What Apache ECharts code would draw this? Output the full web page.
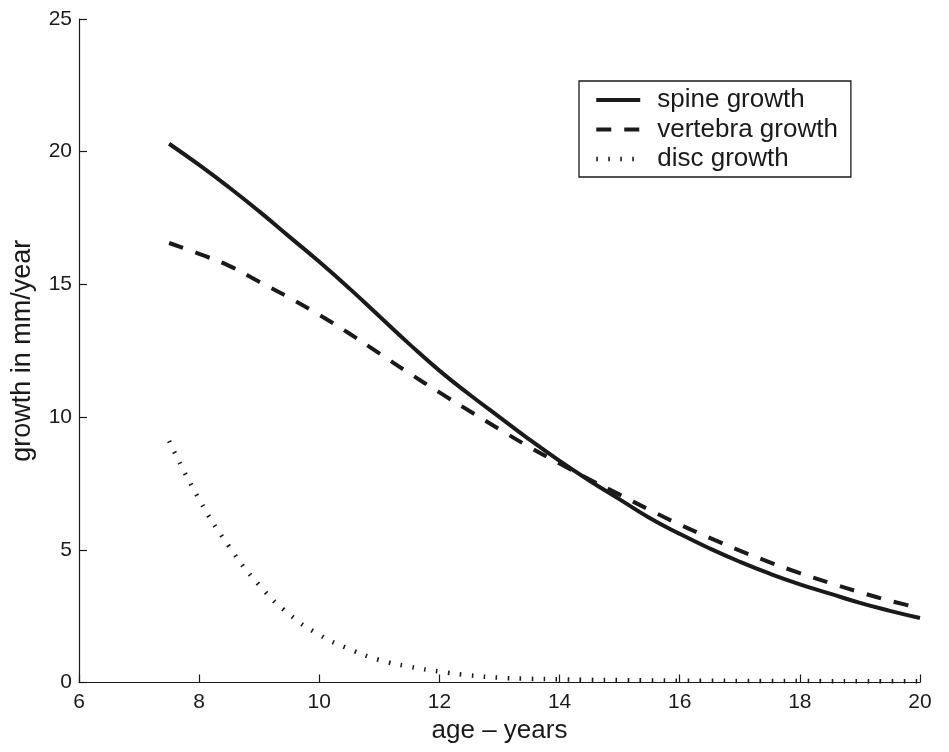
<!DOCTYPE html>
<html>
<head>
<meta charset="utf-8">
<script src="https://cdn.jsdelivr.net/npm/echarts@6/dist/echarts.min.js"></script>
<style>
html,body{margin:0;padding:0;background:#fff;}
#chart{width:949px;height:752px;}
</style>
</head>
<body>
<div id="chart"></div>
<script>
const ages = [7.5,8,8.5,9,9.5,10,10.5,11,11.5,12,12.5,13,13.5,14,14.5,15,15.5,16,16.5,17,17.5,18,18.5,19,19.5,20];
const spineGrowth = [20.3,19.5,18.65,17.75,16.8,15.85,14.85,13.8,12.75,11.75,10.85,10.0,9.15,8.35,7.6,6.9,6.2,5.6,5.05,4.55,4.1,3.7,3.35,3.0,2.7,2.43];
const vertebraGrowth = [16.56,16.15,15.7,15.1,14.5,13.85,13.15,12.4,11.65,10.93,10.23,9.54,8.87,8.25,7.65,7.08,6.5,5.95,5.45,4.97,4.53,4.12,3.75,3.4,3.08,2.8];
const discGrowth = [9.1,6.9,5.12,3.67,2.57,1.8,1.26,0.85,0.6,0.41,0.27,0.18,0.14,0.12,0.1,0.09,0.08,0.07,0.07,0.06,0.06,0.06,0.05,0.05,0.05,0.05];
const seriesNames = ['spine growth','vertebra growth','disc growth'];
const xTitle = 'age \u2013 years';
const yTitle = 'growth in mm/year';

const ink = '#1a1a1a';
const font = 'Liberation Sans, Arial, Helvetica, sans-serif';
const pairs = vals => ages.map((a,i)=>[a, vals[i]]);

const lineStyles = [
  {color:ink, width:4, type:'solid'},
  {color:ink, width:4, type:[15,13]},
  {color:ink, width:4.5, type:[1.6,10.4]}
];

const chart = echarts.init(document.getElementById('chart'), null, {renderer:'canvas'});
chart.setOption({
  animation:false,
  backgroundColor:'#fff',
  grid:{left:79, right:29, top:19, bottom:69.5, containLabel:false},
  legend:{
    orient:'vertical', left:579, top:81,
    padding:[6,13,5,15],
    borderColor:ink, borderWidth:1.3, borderRadius:0,
    itemWidth:44, itemHeight:14, itemGap:3.5,
    itemStyle:{opacity:0},
    textStyle:{fontFamily:font, fontSize:26, color:ink, padding:[0,0,0,12], lineHeight:26},
    data:seriesNames.map((n,i)=>({name:n, lineStyle:lineStyles[i], itemStyle:{opacity:0}}))
  },
  xAxis:{
    type:'value', min:6, max:20, interval:2,
    name:xTitle, nameLocation:'middle', nameGap:32.5,
    nameTextStyle:{fontFamily:font, fontSize:26, color:ink},
    axisLine:{show:true, onZero:false, lineStyle:{color:ink, width:1.2}},
    axisTick:{show:true, inside:true, length:8, lineStyle:{color:ink, width:1.2}},
    axisLabel:{fontFamily:font, fontSize:21, color:ink, margin:9},
    splitLine:{show:false}
  },
  yAxis:{
    type:'value', min:0, max:25, interval:5,
    name:yTitle, nameLocation:'middle', nameGap:42.5,
    nameTextStyle:{fontFamily:font, fontSize:27, color:ink},
    axisLine:{show:true, onZero:false, lineStyle:{color:ink, width:1.2}},
    axisTick:{show:true, inside:true, length:8, lineStyle:{color:ink, width:1.2}},
    axisLabel:{fontFamily:font, fontSize:21, color:ink, margin:7},
    splitLine:{show:false}
  },
  series:[
    {name:seriesNames[0], type:'line', data:pairs(spineGrowth), smooth:true, symbol:'none',
     lineStyle:lineStyles[0], itemStyle:{color:ink}},
    {name:seriesNames[1], type:'line', data:pairs(vertebraGrowth), smooth:true, symbol:'none',
     lineStyle:lineStyles[1], itemStyle:{color:ink}},
    {name:seriesNames[2], type:'line', data:pairs(discGrowth), smooth:true, symbol:'none',
     lineStyle:lineStyles[2], itemStyle:{color:ink}}
  ]
});
</script>
</body>
</html>
